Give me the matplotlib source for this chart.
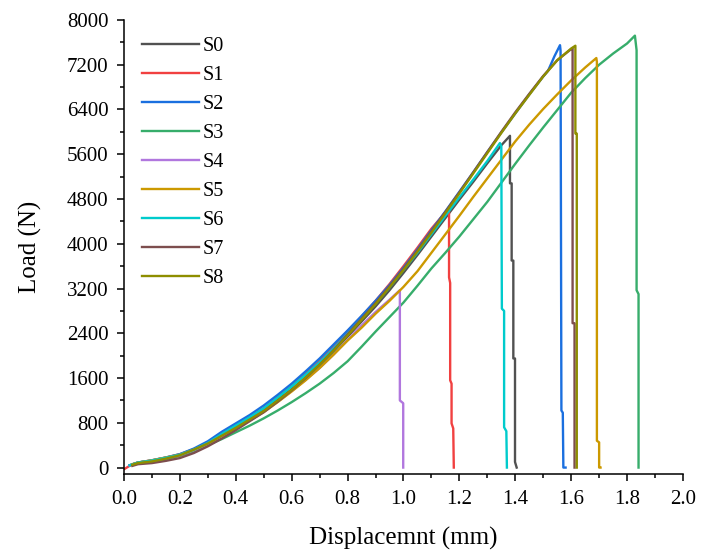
import matplotlib
matplotlib.use('Agg')
import matplotlib.pyplot as plt
from matplotlib.ticker import MultipleLocator

plt.rcParams['font.family'] = 'Liberation Serif'

labels = ['S0', 'S1', 'S2', 'S3', 'S4', 'S5', 'S6', 'S7', 'S8']
colors = ['#515151', '#F14040', '#1A6FDF', '#37AD6B', '#B177DE',
          '#CC9900', '#00CBCC', '#7D4E4E', '#8E8E00']

# displacement (mm) and load (N)
x0 = [0.02, 0.05, 0.1, 0.15, 0.2, 0.25, 0.3, 0.35, 0.4, 0.45, 0.5, 0.55, 0.6, 0.65, 0.7,
      0.75, 0.8, 0.85, 0.9, 0.95, 1.0, 1.05, 1.1, 1.15, 1.2, 1.25, 1.3, 1.35, 1.381,
      1.381, 1.387, 1.387, 1.393, 1.393, 1.399, 1.399, 1.405]
y0 = [40, 90, 120, 170, 220, 310, 420, 580, 720, 860, 1020, 1210, 1400, 1610, 1830,
      2080, 2340, 2610, 2880, 3170, 3480, 3800, 4130, 4460, 4790, 5110, 5440, 5760, 5930,
      5080, 5080, 3700, 3700, 1950, 1950, 100, 0]

x1 = [0.0, 0.03, 0.05, 0.1, 0.15, 0.2, 0.25, 0.3, 0.35, 0.4, 0.45, 0.5, 0.55, 0.6, 0.65,
      0.7, 0.75, 0.8, 0.85, 0.9, 0.95, 1.0, 1.05, 1.1, 1.163, 1.163, 1.167, 1.167, 1.172,
      1.172, 1.178, 1.18]
y1 = [-30, 60, 90, 130, 180, 240, 330, 430, 600, 750, 900, 1060, 1260, 1460, 1680,
      1900, 2160, 2440, 2700, 2980, 3280, 3600, 3930, 4270, 4640, 3400, 3300, 1560, 1500,
      790, 700, 0]

x2 = [0.02, 0.05, 0.1, 0.15, 0.2, 0.25, 0.3, 0.35, 0.4, 0.45, 0.5, 0.55, 0.6, 0.65, 0.7,
      0.75, 0.8, 0.85, 0.9, 0.95, 1.0, 1.05, 1.1, 1.15, 1.2, 1.25, 1.3, 1.35, 1.4, 1.45,
      1.5, 1.517, 1.54, 1.56, 1.562, 1.565, 1.57, 1.572, 1.58]
y2 = [40, 90, 130, 180, 240, 340, 470, 640, 790, 940, 1110, 1300, 1500, 1720, 1950,
      2200, 2450, 2710, 2980, 3260, 3570, 3900, 4240, 4580, 4930, 5280, 5640, 5990, 6330,
      6670, 6990, 7090, 7350, 7550, 7450, 1020, 980, 0, 0]

x3 = [0.03, 0.05, 0.1, 0.15, 0.2, 0.25, 0.3, 0.35, 0.4, 0.45, 0.5, 0.55, 0.6, 0.65, 0.7,
      0.75, 0.8, 0.85, 0.9, 0.95, 1.0, 1.05, 1.1, 1.15, 1.2, 1.25, 1.3, 1.35, 1.4, 1.45,
      1.5, 1.55, 1.6, 1.65, 1.7, 1.75, 1.8, 1.828, 1.834, 1.834, 1.841, 1.841]
y3 = [50, 80, 110, 150, 210, 290, 400, 510, 630, 750, 880, 1020, 1170, 1330, 1500,
      1690, 1900, 2160, 2430, 2690, 2950, 3250, 3560, 3840, 4130, 4440, 4750, 5090, 5430,
      5760, 6080, 6390, 6700, 6960, 7200, 7400, 7580, 7720, 7460, 3170, 3100, 0]

x4 = [0.02, 0.05, 0.1, 0.15, 0.2, 0.25, 0.3, 0.35, 0.4, 0.45, 0.5, 0.55, 0.6, 0.65, 0.7,
      0.75, 0.8, 0.85, 0.9, 0.95, 0.987, 0.987, 0.999, 0.999]
y4 = [40, 80, 120, 170, 220, 310, 420, 570, 710, 850, 1000, 1180, 1370, 1570, 1780,
      2020, 2280, 2540, 2780, 3000, 3170, 1200, 1150, 0]

x5 = [0.03, 0.05, 0.1, 0.15, 0.2, 0.25, 0.3, 0.35, 0.4, 0.45, 0.5, 0.55, 0.6, 0.65, 0.7,
      0.75, 0.8, 0.85, 0.9, 0.95, 1.0, 1.05, 1.1, 1.15, 1.2, 1.25, 1.3, 1.35, 1.4, 1.45,
      1.5, 1.55, 1.6, 1.65, 1.69, 1.692, 1.692, 1.7, 1.7, 1.705]
y5 = [60, 90, 130, 180, 230, 320, 430, 570, 700, 840, 990, 1170, 1360, 1560, 1780,
      2020, 2270, 2500, 2750, 2980, 3230, 3510, 3840, 4170, 4500, 4840, 5170, 5500, 5830,
      6130, 6410, 6670, 6920, 7150, 7320, 7250, 480, 450, 0, 0]

x6 = [0.02, 0.05, 0.1, 0.15, 0.2, 0.25, 0.3, 0.35, 0.4, 0.45, 0.5, 0.55, 0.6, 0.65, 0.7,
      0.75, 0.8, 0.85, 0.9, 0.95, 1.0, 1.05, 1.1, 1.15, 1.2, 1.25, 1.3, 1.345, 1.35,
      1.352, 1.36, 1.36, 1.368, 1.37]
y6 = [40, 90, 125, 175, 230, 320, 440, 600, 750, 900, 1060, 1250, 1450, 1660, 1880,
      2130, 2390, 2660, 2930, 3220, 3530, 3840, 4170, 4500, 4830, 5150, 5480, 5800, 5740,
      2840, 2800, 720, 650, 0]

x7 = [0.03, 0.05, 0.1, 0.15, 0.2, 0.25, 0.3, 0.35, 0.4, 0.45, 0.5, 0.55, 0.6, 0.65, 0.7,
      0.75, 0.8, 0.85, 0.9, 0.95, 1.0, 1.05, 1.1, 1.15, 1.2, 1.25, 1.3, 1.35, 1.4, 1.45,
      1.5, 1.55, 1.6, 1.605, 1.605, 1.612, 1.612]
y7 = [30, 60, 80, 120, 170, 260, 380, 520, 670, 830, 990, 1180, 1380, 1600, 1840,
      2100, 2380, 2660, 2940, 3240, 3550, 3880, 4220, 4570, 4920, 5280, 5640, 6000, 6350,
      6680, 7000, 7280, 7480, 7500, 2580, 2580, 0]

x8 = [0.03, 0.05, 0.1, 0.15, 0.2, 0.25, 0.3, 0.35, 0.4, 0.45, 0.5, 0.55, 0.6, 0.65, 0.7,
      0.75, 0.8, 0.85, 0.9, 0.95, 1.0, 1.05, 1.1, 1.15, 1.2, 1.25, 1.3, 1.35, 1.4, 1.45,
      1.5, 1.55, 1.6, 1.615, 1.615, 1.62, 1.62]
y8 = [50, 80, 110, 160, 220, 320, 430, 570, 710, 860, 1010, 1200, 1390, 1610, 1840,
      2090, 2360, 2640, 2920, 3220, 3530, 3860, 4200, 4550, 4900, 5260, 5620, 5980, 6330,
      6660, 6990, 7280, 7490, 7540, 5970, 5970, 0]

xs = [x0, x1, x2, x3, x4, x5, x6, x7, x8]
ys = [y0, y1, y2, y3, y4, y5, y6, y7, y8]

fig = plt.figure(figsize=(7.09, 5.52), dpi=100)
ax = fig.add_axes([0.1749, 0.1408, 0.7884, 0.823])

for x, y, c, lab in zip(xs, ys, colors, labels):
    ax.plot(x, y, color=c, lw=1.7, label=lab)

ax.set_xlim(0, 2.0)
ax.set_ylim(-120, 8000)
ax.xaxis.set_minor_locator(MultipleLocator(0.1))
ax.yaxis.set_major_locator(MultipleLocator(800))
ax.yaxis.set_minor_locator(MultipleLocator(400))
ax.set_xticks([i * 0.2 for i in range(11)])
ax.set_xticklabels(['%.1f' % (i * 0.2) for i in range(11)])

ax.spines['top'].set_visible(False)
ax.spines['right'].set_visible(False)
for s in ['left', 'bottom']:
    ax.spines[s].set_linewidth(1.1)
ax.tick_params(which='major', direction='out', length=5, width=1.1, labelsize=15, pad=6)
ax.tick_params(which='minor', direction='out', length=3, width=1.1)

ax.set_xlabel('Displacemnt (mm)', fontsize=18, labelpad=13)
ax.set_ylabel('Load (N)', fontsize=18, labelpad=18)

ax.legend(loc='upper left', bbox_to_anchor=(0.032, 0.962), frameon=False,
          fontsize=14.5, handlelength=2.85, handletextpad=0.15, labelspacing=0.49,
          borderpad=0, borderaxespad=0)

fig.savefig('out.png', dpi=100)
